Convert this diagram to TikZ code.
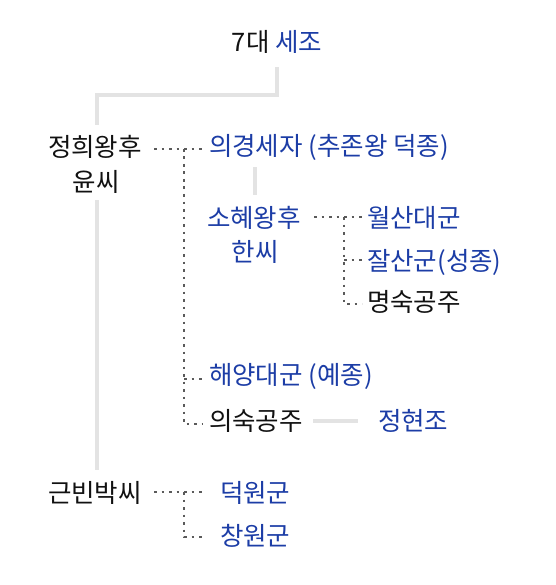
\documentclass[tikz,border=0pt]{standalone}
\usepackage{fontspec}
\setmainfont{Noto Sans CJK KR}
\definecolor{kblue}{HTML}{1C3DA6}
\definecolor{ktext}{HTML}{111111}
\definecolor{kgray}{HTML}{E3E3E3}
\definecolor{kdot}{HTML}{5A5A5A}
\begin{document}
\begin{tikzpicture}[x=1pt,y=-1pt,
  every node/.style={inner sep=0pt,outer sep=0pt,font=\fontsize{25.5}{30}\selectfont,text=ktext},
  nm/.style={anchor=west},
  bl/.style={anchor=west,text=kblue},
  solidline/.style={draw=kgray,line width=4pt},
  dotline/.style={draw=kdot,line width=2.6pt,dash pattern=on 2.6pt off 4.9pt}]
\useasboundingbox (0,0) rectangle (555,585);
% nodes
\node[anchor=center] (sejo) at (277,42) {7대 \textcolor{kblue}{세조}};
\node[nm] (jh) at (48,147) {정희왕후};
\node[anchor=center] (jh2) at (96,182) {윤씨};
\node[bl] (ug) at (209,147) {의경세자 (추존왕 덕종)};
\node[bl] (sh) at (207,218) {소혜왕후};
\node[anchor=center,text=kblue] (sh2) at (255,252) {한씨};
\node[bl] (ws) at (367,218) {월산대군};
\node[bl] (js) at (367,262) {잘산군(성종)};
\node[nm] (ms) at (367,302) {명숙공주};
\node[bl] (hy) at (209,376) {해양대군 (예종)};
\node[nm] (us) at (209,421) {의숙공주};
\node[bl] (jhj) at (378,421) {정현조};
\node[nm] (gb) at (48,493) {근빈박씨};
\node[bl] (dw) at (220,493) {덕원군};
\node[bl] (cw) at (220,536) {창원군};
% coordinates
\coordinate (a1) at (277,67);
\coordinate (a2) at (277,95);
\coordinate (a3) at (97,95);
\coordinate (a4) at (97,125);
\coordinate (b1) at (97,200);
\coordinate (b2) at (97,470);
\coordinate (c1) at (255,167);
\coordinate (c2) at (255,195);
\coordinate (d1) at (313,421);
\coordinate (d2) at (358,421);
% solid gray lines
\draw[solidline] (a1) -- (a2) -- (a3) -- (a4);
\draw[solidline] (b1) -- (b2);
\draw[solidline] (c1) -- (c2);
\draw[solidline] (d1) -- (d2);
% dotted
\draw[dotline] (154,149) -- (202,149);
\draw[dotline] (184,149) -- (184,424) -- (202,424);
\draw[dotline] (184,379) -- (202,379);
\draw[dotline] (314,217) -- (362,217);
\draw[dotline] (344,217) -- (344,304) -- (362,304);
\draw[dotline] (344,260) -- (362,260);
\draw[dotline] (154,492) -- (202,492);
\draw[dotline] (184,492) -- (184,537) -- (202,537);
\end{tikzpicture}
\end{document}
